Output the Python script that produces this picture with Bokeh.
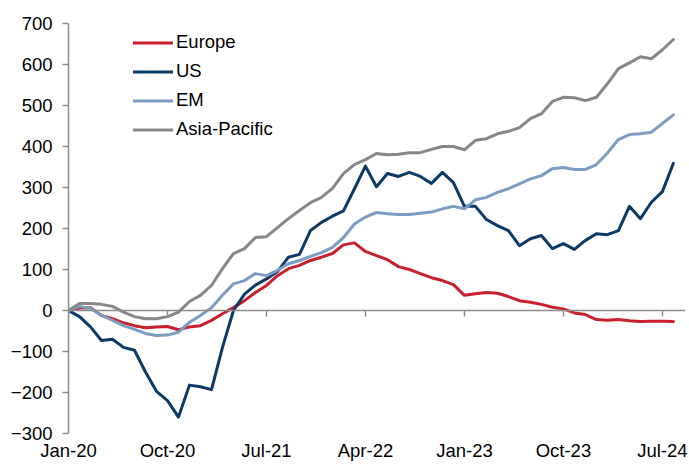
from bokeh.plotting import figure
from bokeh.models import Range1d, FixedTicker, LinearAxis, Legend, LegendItem
from bokeh.embed import file_html
from bokeh.resources import INLINE

# Monthly data, Jan-20 .. Aug-24 (56 months)
europe = [0, 6, 7, -12, -20, -30, -37, -42, -40, -39, -47, -40, -37, -24, -8, 7,
          24, 44, 61, 85, 102, 110, 122, 130, 139, 160, 165, 144, 134, 124, 107, 100,
          90, 80, 73, 63, 37, 41, 44, 42, 34, 24, 20, 15, 8, 4, -6, -10,
          -22, -24, -22, -25, -27, -26, -26, -27]
us = [0, -15, -40, -73, -70, -90, -97, -150, -197, -220, -260, -182, -186, -193, -90, 0,
      40, 62, 77, 95, 130, 137, 195, 215, 230, 243, 297, 352, 302, 334, 327, 337,
      327, 310, 337, 312, 254, 254, 222, 207, 195, 158, 175, 183, 151, 163, 149, 171,
      187, 185, 195, 254, 224, 264, 290, 359]
em = [0, 10, 5, -12, -24, -37, -46, -56, -61, -60, -53, -29, -12, 7, 37, 65,
      73, 90, 85, 98, 114, 122, 132, 141, 154, 178, 211, 228, 239, 236, 234, 234,
      237, 240, 248, 254, 248, 270, 276, 288, 297, 309, 321, 329, 346, 349, 344, 344,
      356, 384, 417, 429, 431, 435, 456, 477]
asia_pacific = [0, 17, 17, 15, 10, -4, -15, -20, -20, -15, -4, 22, 37, 61, 102, 139,
                151, 178, 180, 202, 224, 244, 263, 276, 298, 334, 356, 368, 383, 380, 381, 385,
                385, 393, 400, 400, 392, 415, 419, 431, 437, 446, 468, 480, 510, 520, 519, 512,
                520, 553, 590, 604, 619, 614, 636, 661]

series_names = ["Europe", "US", "EM", "Asia-Pacific"]
series_colors = ["#C8202C", "#0B3A66", "#7D9CC1", "#878787"]
tick_positions = [0, 9, 18, 27, 36, 45, 54]
tick_labels = ["Jan-20", "Oct-20", "Jul-21", "Apr-22", "Jan-23", "Oct-23", "Jul-24"]
y_ticks = [-300, -200, -100, 0, 100, 200, 300, 400, 500, 600, 700]

x = list(range(len(europe)))
FONT = "Liberation Sans"
FSIZE = "18.5px"
AXIS_GREY = "#8C8C8C"

p = figure(width=689, height=465, output_backend="svg", toolbar_location=None,
           x_range=Range1d(0, 56.1), y_range=Range1d(-300, 700),
           min_border_left=68, min_border_right=4, min_border_top=23, min_border_bottom=32)
p.outline_line_color = None
p.xgrid.grid_line_color = None
p.ygrid.grid_line_color = None
p.background_fill_color = "white"

# y axis
p.yaxis.ticker = FixedTicker(ticks=y_ticks)
p.yaxis.axis_line_color = AXIS_GREY
p.yaxis.axis_line_width = 1.5
p.yaxis.major_tick_line_color = AXIS_GREY
p.yaxis.major_tick_line_width = 1.5
p.yaxis.major_tick_out = 6
p.yaxis.major_tick_in = 0
p.yaxis.minor_tick_line_color = None
p.yaxis.major_label_standoff = 10
p.yaxis.major_label_text_font = FONT
p.yaxis.major_label_text_font_size = FSIZE
p.yaxis.major_label_text_color = "#000000"

# bottom axis: labels only
p.xaxis.ticker = FixedTicker(ticks=tick_positions)
p.xaxis.major_label_overrides = {t: l for t, l in zip(tick_positions, tick_labels)}
p.xaxis.axis_line_color = None
p.xaxis.major_tick_line_color = None
p.xaxis.minor_tick_line_color = None
p.xaxis.major_tick_out = 0
p.xaxis.major_tick_in = 0
p.xaxis.major_label_standoff = 6
p.xaxis.major_label_text_font = FONT
p.xaxis.major_label_text_font_size = FSIZE
p.xaxis.major_label_text_color = "#000000"

# zero line axis with ticks pointing down (no labels)
zero_axis = LinearAxis(ticker=FixedTicker(ticks=tick_positions), fixed_location=0)
zero_axis.axis_line_color = AXIS_GREY
zero_axis.axis_line_width = 1.5
zero_axis.major_tick_line_color = AXIS_GREY
zero_axis.major_tick_line_width = 1.5
zero_axis.major_tick_in = 6
zero_axis.major_tick_out = 0
zero_axis.minor_tick_line_color = None
zero_axis.major_label_overrides = {t: "" for t in tick_positions}
zero_axis.major_label_text_font_size = "0px"
zero_axis.major_label_standoff = 0
p.add_layout(zero_axis, "above")

renderers = []
for ys, c in zip([europe, us, em, asia_pacific], series_colors):
    r = p.line(x, ys, line_color=c, line_width=3, line_join="round", line_cap="round")
    renderers.append(r)

legend = Legend(items=[LegendItem(label=n, renderers=[r]) for n, r in zip(series_names, renderers)],
                location=(65, 293))
legend.label_text_font = FONT
legend.label_text_font_size = FSIZE
legend.label_text_color = "#000000"
legend.border_line_color = None
legend.background_fill_alpha = 0
legend.padding = 0
legend.margin = 0
legend.spacing = 7
legend.glyph_width = 40
legend.glyph_height = 21
legend.label_height = 21
legend.label_standoff = 3
p.add_layout(legend, "center")

open("out.html", "w").write(file_html(p, INLINE))
